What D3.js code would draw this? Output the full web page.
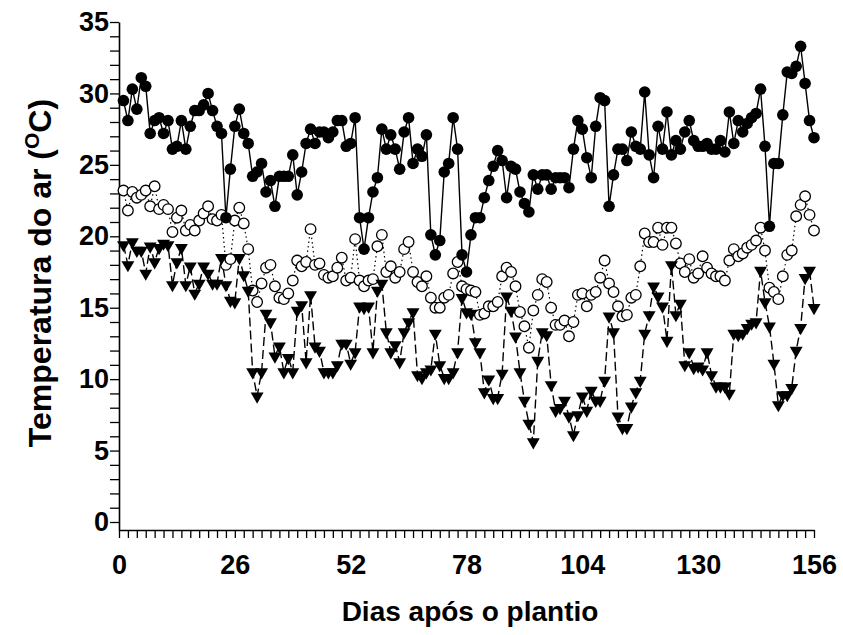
<!DOCTYPE html>
<html>
<head>
<meta charset="utf-8">
<script src="https://cdn.jsdelivr.net/npm/d3@7"></script>
<style>
body { margin: 0; background: #fff; }
text { font-family: "Liberation Sans", Arial, sans-serif; font-weight: bold; }
</style>
</head>
<body>
<div id="chart"></div>
<script>
// daily air temperature: maximum, mean, minimum (days 1..156)
const tMax = [29.5, 28.1, 30.3, 28.9, 31.1, 30.5, 27.2, 28.1, 28.3, 27.2, 28.1, 26.1, 26.3, 28.1, 26.1, 27.7, 28.8, 28.8, 29.2, 30.0,
    28.8, 27.7, 27.2, 21.3, 24.7, 27.7, 28.9, 27.2, 26.5, 24.2, 24.5, 25.1, 23.1, 23.9, 22.1, 24.2, 24.2, 24.2, 25.7, 22.9,
    24.5, 26.5, 27.5, 26.5, 27.3, 27.3, 26.9, 27.3, 28.1, 28.1, 26.3, 26.5, 28.3, 21.3, 19.1, 21.3, 23.1, 24.1, 27.5, 26.1,
    27.1, 26.1, 24.7, 27.3, 28.3, 25.1, 26.1, 25.6, 27.1, 20.1, 18.7, 19.7, 24.5, 25.1, 28.3, 26.1, 18.7, 17.5, 20.1, 21.3,
    21.3, 22.7, 23.9, 24.9, 26.0, 25.3, 22.7, 24.9, 24.7, 23.1, 22.3, 21.7, 24.3, 23.3, 24.3, 24.3, 23.3, 24.1, 24.1, 24.1,
    23.4, 26.1, 28.1, 27.5, 25.5, 24.1, 27.7, 29.7, 29.5, 22.1, 24.3, 26.1, 26.1, 25.3, 27.3, 26.3, 26.1, 30.1, 25.7, 24.1,
    27.7, 26.1, 28.7, 25.7, 26.7, 26.1, 27.3, 28.1, 26.7, 26.3, 26.3, 26.5, 26.1, 26.1, 26.7, 25.9, 28.7, 26.5, 28.1, 27.3,
    27.9, 28.3, 28.6, 30.3, 26.3, 20.7, 25.1, 25.1, 28.5, 31.5, 31.4, 31.9, 33.3, 30.7, 28.1, 26.9];

const tMean = [23.2, 21.8, 23.1, 22.7, 22.9, 23.2, 22.1, 23.5, 21.9, 22.2, 21.9, 20.3, 21.3, 21.8, 20.4, 20.8, 20.4, 21.1, 21.6, 22.1,
    21.2, 21.1, 21.5, 18.0, 18.4, 21.1, 22.0, 20.9, 19.1, 16.2, 15.4, 16.7, 17.8, 18.0, 16.5, 15.7, 15.6, 16.0, 16.9, 18.3,
    17.9, 18.2, 20.5, 18.0, 18.1, 17.3, 17.1, 17.2, 17.8, 18.5, 16.9, 17.1, 19.8, 16.9, 16.5, 16.9, 17.0, 19.3, 20.1, 17.5,
    17.9, 17.1, 17.5, 19.1, 19.6, 17.5, 16.8, 16.5, 17.2, 15.7, 15.0, 15.0, 15.7, 15.9, 17.4, 18.2, 16.5, 16.3, 16.2, 16.1,
    14.5, 14.6, 15.1, 15.1, 15.4, 17.2, 17.8, 17.5, 16.5, 14.7, 13.7, 12.2, 14.8, 15.9, 17.0, 16.8, 15.0, 13.8, 13.8, 14.1,
    13.0, 14.0, 15.9, 16.0, 15.1, 15.9, 16.1, 17.1, 18.3, 16.7, 16.1, 15.1, 14.4, 14.5, 15.7, 15.9, 17.9, 20.2, 19.6, 19.6,
    20.6, 19.4, 20.6, 20.6, 19.5, 18.1, 17.5, 18.4, 17.1, 17.4, 18.6, 17.8, 17.4, 17.2, 17.2, 16.9, 18.3, 19.1, 18.6, 18.8,
    19.2, 19.4, 19.7, 20.6, 19.0, 16.4, 16.1, 15.6, 17.2, 18.7, 19.0, 21.4, 22.2, 22.8, 21.5, 20.4];

const tMin = [19.4, 18.0, 19.6, 19.0, 19.0, 17.4, 19.3, 18.2, 19.2, 19.5, 19.4, 16.6, 18.2, 19.2, 16.6, 17.9, 16.0, 16.7, 17.9, 17.4,
    16.7, 16.7, 18.5, 16.6, 15.5, 15.4, 18.5, 17.3, 16.2, 10.5, 8.8, 10.5, 14.6, 14.0, 11.6, 12.3, 10.5, 11.5, 10.5, 14.8,
    15.2, 11.2, 15.9, 12.3, 12.0, 10.5, 10.5, 10.5, 11.0, 12.5, 12.5, 11.1, 11.9, 15.1, 15.0, 15.1, 11.9, 16.2, 16.7, 13.3,
    11.9, 12.4, 11.2, 13.3, 14.0, 14.7, 10.3, 10.1, 10.5, 10.7, 13.2, 11.0, 10.1, 10.1, 10.5, 11.9, 15.7, 14.7, 14.6, 12.6,
    11.9, 9.1, 10.0, 8.7, 8.7, 10.4, 15.8, 14.8, 13.0, 10.5, 8.5, 6.9, 5.6, 11.3, 13.3, 13.1, 9.6, 7.8, 8.0, 8.5,
    7.4, 6.1, 7.5, 8.8, 7.8, 9.2, 8.5, 8.5, 9.9, 14.4, 13.3, 7.4, 6.6, 6.6, 8.1, 9.1, 9.9, 13.2, 14.5, 16.5,
    15.8, 15.1, 12.7, 18.0, 14.5, 15.3, 11.0, 11.9, 10.8, 10.9, 10.7, 11.9, 10.3, 9.5, 9.5, 9.5, 9.0, 13.2, 13.1, 13.2,
    13.6, 13.9, 14.0, 17.6, 15.4, 13.7, 11.1, 8.2, 8.9, 8.9, 9.4, 12.0, 13.6, 17.1, 17.6, 15.0];

const days = d3.range(1, tMax.length + 1);
const xTicks = [0, 26, 52, 78, 104, 130, 156];
const yTicks = [0, 5, 10, 15, 20, 25, 30, 35];

const width = 843;
const height = 635;

const svg = d3.select('#chart').append('svg')
    .attr('width', width).attr('height', height);

// y axis starts a little below zero so the x axis sits under the 0 tick
const x = d3.scaleLinear().domain([0, 156]).range([119, 814]);
const y = d3.scaleLinear().domain([-0.56, 35]).range([530, 22]);

const fontTick = 27;

// x axis
svg.append('g').attr('transform', `translate(0,${y(-0.56)})`)
    .call(d3.axisBottom(x).tickValues(d3.range(0, 157, 2)).tickSize(8).tickSizeOuter(0)
        .tickFormat(d => xTicks.includes(d) ? d : '').tickPadding(17))
    .call(g => g.select('.domain').attr('stroke-width', 1.6))
    .call(g => g.selectAll('.tick line').attr('stroke-width', 1.3))
    .call(g => g.selectAll('text').attr('font-size', fontTick).attr('fill', '#000'));

// y axis
svg.append('g').attr('transform', `translate(${x(0)},0)`)
    .call(d3.axisLeft(y).tickValues(d3.range(0, 36, 1)).tickSize(9).tickSizeOuter(0)
        .tickFormat(d => yTicks.includes(d) ? d : '').tickPadding(1))
    .call(g => g.select('.domain').attr('stroke-width', 1.6))
    .call(g => g.selectAll('.tick line').attr('stroke-width', 1.3))
    .call(g => g.selectAll('text').attr('font-size', fontTick).attr('fill', '#000'));

// axis titles
svg.append('text')
    .attr('x', 470).attr('y', 621)
    .attr('text-anchor', 'middle').attr('font-size', 28)
    .text('Dias após o plantio');

const yTitle = svg.append('text')
    .attr('transform', 'translate(51,273) rotate(-90)')
    .attr('text-anchor', 'middle').attr('font-size', 32);
yTitle.append('tspan').text('Temperatura do ar (');
yTitle.append('tspan').attr('font-size', 21).attr('dy', -12).text('O');
yTitle.append('tspan').attr('dy', 12).text('C)');

// series lines
function drawSeries(values, dash, w) {
    const line = d3.line().x((d, i) => x(days[i])).y(d => y(d));
    svg.append('path').datum(values)
        .attr('d', line).attr('fill', 'none').attr('stroke', '#000')
        .attr('stroke-width', w).attr('stroke-dasharray', dash);
}

drawSeries(tMean, '1.5,3', 1.2);
drawSeries(tMin, '9,4', 1.4);
drawSeries(tMax, null, 1.4);

// markers
svg.append('g').selectAll('circle').data(tMean).join('circle')
    .attr('cx', (d, i) => x(days[i])).attr('cy', d => y(d))
    .attr('r', 5.3).attr('fill', '#fff').attr('stroke', '#000').attr('stroke-width', 1.3);

const tri = d3.symbol().type(d3.symbolTriangle).size(72);
svg.append('g').selectAll('path').data(tMin).join('path')
    .attr('d', tri)
    .attr('transform', (d, i) => `translate(${x(days[i])},${y(d)}) rotate(180)`)
    .attr('fill', '#000');

svg.append('g').selectAll('circle').data(tMax).join('circle')
    .attr('cx', (d, i) => x(days[i])).attr('cy', d => y(d))
    .attr('r', 5.8).attr('fill', '#000');
</script>
</body>
</html>
